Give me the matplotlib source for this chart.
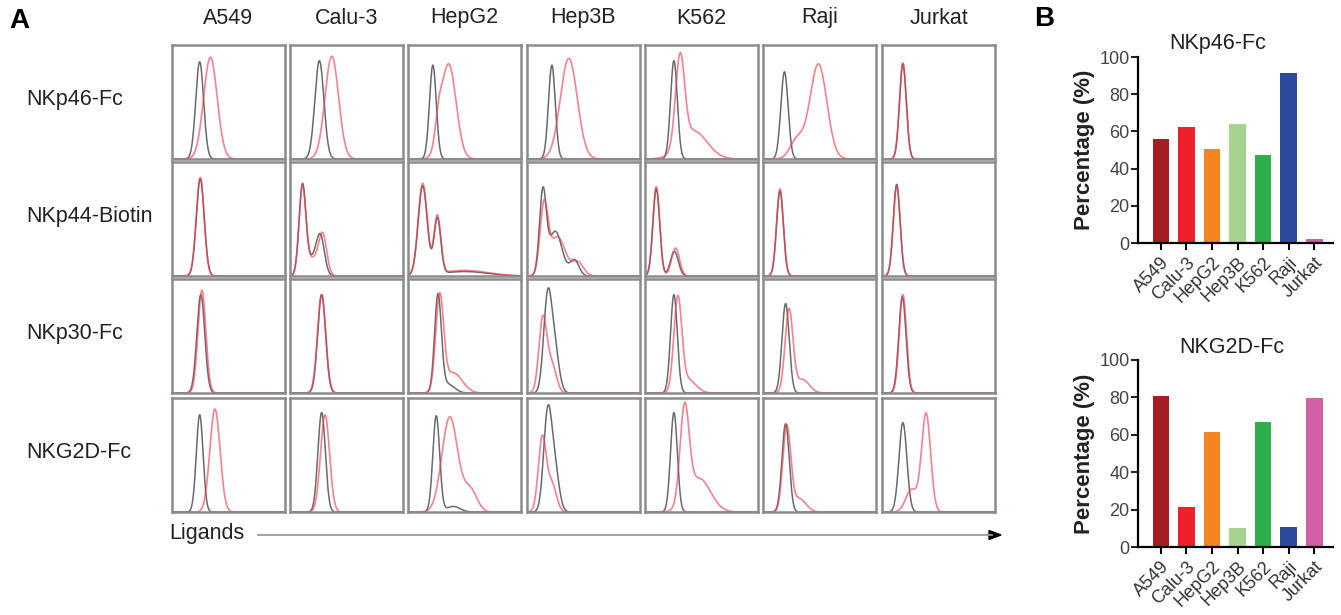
import numpy as np
import matplotlib
matplotlib.use('Agg')
import matplotlib.pyplot as plt
from matplotlib.patches import Polygon

plt.rcParams['font.family'] = ['Liberation Sans', 'DejaVu Sans']

W, H = 1341, 615

###########################################################
# data

cells = ['A549', 'Calu-3', 'HepG2', 'Hep3B', 'K562', 'Raji', 'Jurkat']
receptors = ['NKp46-Fc', 'NKp44-Biotin', 'NKp30-Fc', 'NKG2D-Fc']

# histogram shapes: (peak pos, width, height) in panel units
# control (gray) curves, one list per panel, rows = receptors, cols = cells
ctrl_peaks = [
    [[(0.245, 0.035, 0.87)], [(0.26, 0.04, 0.88)], [(0.22, 0.03, 0.84)], [(0.22, 0.03, 0.84)],
     [(0.256, 0.03, 0.88)], [(0.19, 0.032, 0.78)], [(0.185, 0.03, 0.85)]],
    [[(0.25, 0.035, 0.87)],
     [(0.11, 0.03, 0.78), (0.27, 0.035, 0.30), (0.2, 0.06, 0.15)],
     [(0.13, 0.04, 0.80), (0.26, 0.03, 0.50), (0.5, 0.2, 0.04)],
     [(0.14, 0.03, 0.72), (0.25, 0.06, 0.40), (0.42, 0.04, 0.14)],
     [(0.10, 0.03, 0.78), (0.26, 0.035, 0.22)],
     [(0.15, 0.03, 0.76)], [(0.13, 0.03, 0.82)]],
    [[(0.255, 0.035, 0.88)], [(0.28, 0.035, 0.88)], [(0.265, 0.03, 0.86), (0.35, 0.06, 0.08)],
     [(0.18, 0.035, 0.78), (0.24, 0.04, 0.42)],
     [(0.256, 0.03, 0.88)], [(0.2, 0.032, 0.80)], [(0.18, 0.032, 0.86)]],
    [[(0.245, 0.03, 0.87)], [(0.28, 0.033, 0.89)], [(0.25, 0.03, 0.86), (0.4, 0.06, 0.05)],
     [(0.18, 0.035, 0.80), (0.24, 0.04, 0.42)],
     [(0.256, 0.03, 0.89)], [(0.2, 0.032, 0.79)], [(0.185, 0.035, 0.80)]],
]

# ligand-stained (red) curves
lig_peaks = [
    [[(0.34, 0.06, 0.91)], [(0.37, 0.06, 0.92)], [(0.36, 0.065, 0.85), (0.27, 0.03, 0.2)],
     [(0.37, 0.075, 0.90)], [(0.31, 0.04, 0.80), (0.43, 0.12, 0.25)],
     [(0.49, 0.075, 0.85), (0.3, 0.06, 0.17)], [(0.185, 0.03, 0.86)]],
    [[(0.25, 0.035, 0.88)],
     [(0.11, 0.03, 0.76), (0.29, 0.035, 0.34), (0.2, 0.06, 0.15)],
     [(0.13, 0.04, 0.82), (0.26, 0.03, 0.52), (0.5, 0.2, 0.05)],
     [(0.15, 0.035, 0.60), (0.27, 0.07, 0.35), (0.45, 0.05, 0.12)],
     [(0.10, 0.03, 0.80), (0.27, 0.035, 0.25)],
     [(0.15, 0.03, 0.78)], [(0.13, 0.03, 0.80)]],
    [[(0.265, 0.035, 0.92)], [(0.28, 0.037, 0.88)], [(0.28, 0.035, 0.84), (0.4, 0.08, 0.18)],
     [(0.14, 0.035, 0.66), (0.22, 0.04, 0.25)],
     [(0.29, 0.035, 0.82), (0.38, 0.07, 0.12)], [(0.23, 0.035, 0.74), (0.35, 0.06, 0.12)],
     [(0.185, 0.032, 0.88)]],
    [[(0.38, 0.045, 0.92)], [(0.31, 0.04, 0.87)], [(0.37, 0.07, 0.85), (0.55, 0.06, 0.2)],
     [(0.135, 0.035, 0.66), (0.22, 0.04, 0.25)],
     [(0.35, 0.04, 0.85), (0.48, 0.1, 0.3)], [(0.21, 0.035, 0.76), (0.32, 0.06, 0.12)],
     [(0.39, 0.04, 0.88), (0.26, 0.05, 0.2)]],
]

pct_nkp46 = [55.7, 62.2, 50.7, 64.0, 47.1, 91.2, 2.0]
pct_nkg2d = [80.5, 21.5, 61.3, 10.0, 66.7, 10.8, 79.8]
bar_colors = ['#A51D24', '#EC2227', '#F48420', '#A6D38D', '#2DB04B', '#2D4A9E', '#D260A6']

###########################################################
# helpers

def px_axes(fig, left, top, right, bottom):
    return fig.add_axes([left / W, 1 - bottom / H, (right - left) / W, (bottom - top) / H])

def curve(x, peaks):
    y = np.zeros_like(x)
    for c, s, h in peaks:
        y += h * np.exp(-0.5 * ((x - c) / s) ** 2)
    return y

fig = plt.figure(figsize=(W / 100, H / 100), dpi=100)
txt = '#222222'

###########################################################
# panel A: histogram grid

col_left = [172, 290, 408, 527, 645, 763, 882]
row_top = [45, 162, 279, 398]
box_w, box_h = 113, 114
xx = np.linspace(0, 1, 400)

for i, rec in enumerate(receptors):
    for j, cell in enumerate(cells):
        ax = px_axes(fig, col_left[j], row_top[i], col_left[j] + box_w, row_top[i] + box_h)
        ax.plot(xx, curve(xx, ctrl_peaks[i][j]), color='#505050', lw=1.1, alpha=0.85)
        ax.plot(xx, curve(xx, lig_peaks[i][j]), color='#F04050', lw=1.2, alpha=0.65)
        ax.set_xlim(0, 1)
        ax.set_ylim(0, 1.02)
        ax.set_xticks([])
        ax.set_yticks([])
        for sp in ax.spines.values():
            sp.set_color('#8c8c8c')
            sp.set_linewidth(1.8)
        if i == 0:
            fig.text((col_left[j] + box_w / 2) / W, 1 - 18 / H, cell, ha='center', va='center',
                     fontsize=15.5, family=['Liberation Sans Narrow', 'Liberation Sans'], color=txt)
    fig.text(26 / W, 1 - (row_top[i] + 55) / H, rec, ha='left', va='center', fontsize=15.5, color=txt)

fig.text(9 / W, 1 - 21 / H, 'A', fontsize=20, fontweight='bold', va='center', ha='left')
fig.text(1034 / W, 1 - 19 / H, 'B', fontsize=20, fontweight='bold', va='center', ha='left')

fig.text(169 / W, 1 - 533 / H, 'Ligands', fontsize=15.5, va='center', ha='left', color=txt)
fig.add_artist(plt.Line2D([258 / W, 992 / W], [1 - 535 / H, 1 - 535 / H], transform=fig.transFigure,
                          color='#9a9a9a', lw=1.3))
fig.add_artist(Polygon([[989 / W, 1 - 530.5 / H], [1001 / W, 1 - 535 / H], [989 / W, 1 - 539.5 / H]],
                       closed=True, transform=fig.transFigure, color='black'))

###########################################################
# panel B: bar charts

def bar_panel(left, top, right, bottom, vals, title, title_x, title_y):
    ax = px_axes(fig, left, top, right, bottom)
    x = np.arange(len(cells))
    ax.bar(x, vals, width=0.66, color=bar_colors)
    ax.set_xlim(-0.9, 6.74)
    ax.set_ylim(0, 100)
    ax.set_yticks([0, 20, 40, 60, 80, 100])
    ax.set_xticks(x)
    ax.set_xticklabels(cells, rotation=45, ha='right', rotation_mode='anchor', fontsize=13, color='#333333')
    ax.tick_params(axis='y', labelsize=13, colors='#222222', labelcolor='#444444', length=5, width=1.5, pad=1)
    ax.tick_params(axis='x', length=5, width=1.5, pad=3)
    ax.spines['top'].set_visible(False)
    ax.spines['right'].set_visible(False)
    ax.spines['left'].set_linewidth(1.6)
    ax.spines['bottom'].set_linewidth(1.6)
    ax.set_ylabel('Percentage (%)', fontsize=16, fontweight='bold', labelpad=3, color=txt)
    fig.text(title_x / W, 1 - title_y / H, title, ha='center', va='center', fontsize=15.5, color=txt)
    return ax

bar_panel(1138, 57, 1333, 243, pct_nkp46, 'NKp46-Fc', 1218, 43)
bar_panel(1138, 360, 1333, 547, pct_nkg2d, 'NKG2D-Fc', 1232, 348)

plt.savefig('out.png', dpi=100)
